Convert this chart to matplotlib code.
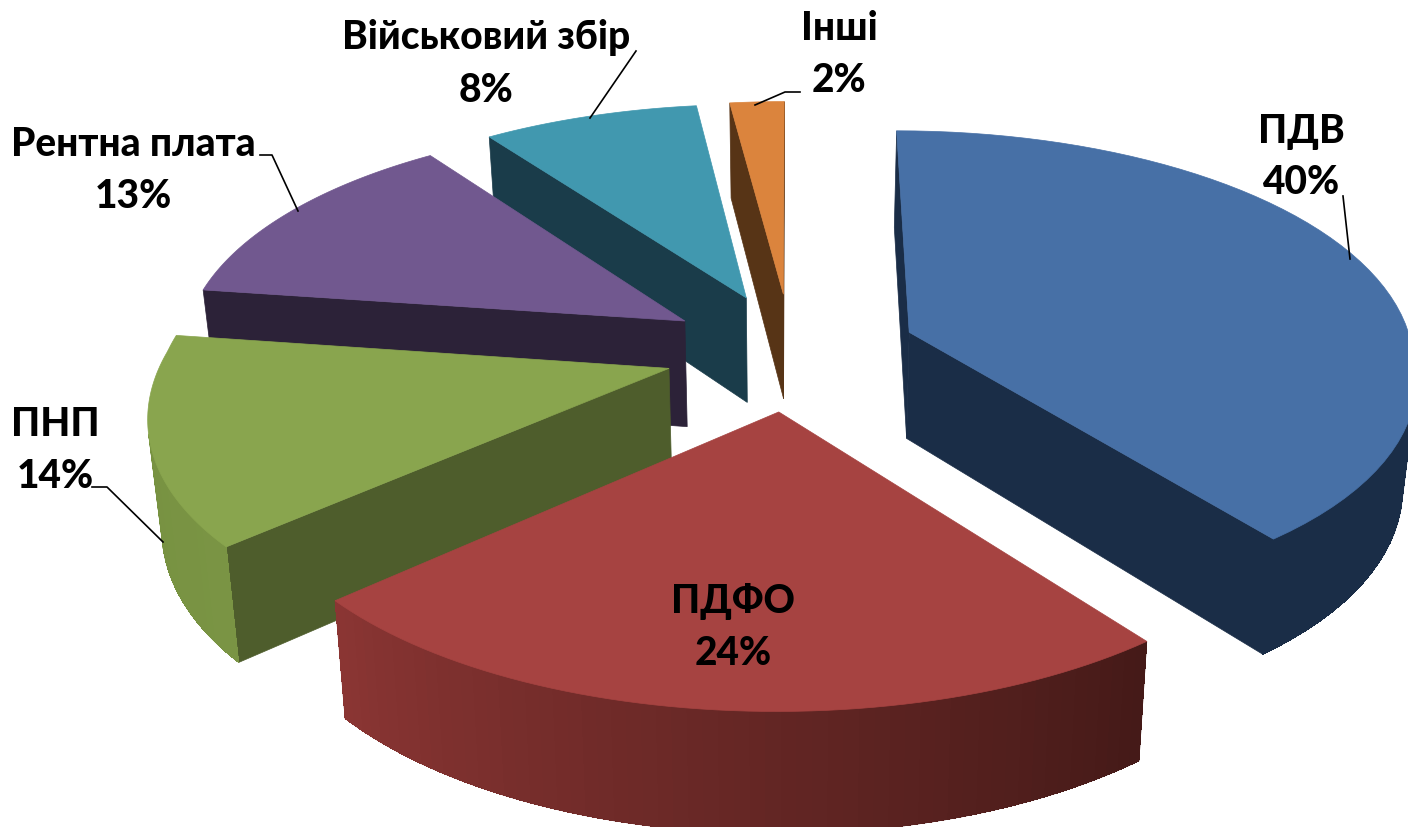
import numpy as np
import matplotlib
matplotlib.use("Agg")
import matplotlib.pyplot as plt
from matplotlib.patches import Polygon

names = ["ПДВ", "ПДФО", "ПНП", "Рентна плата", "Військовий збір", "Інші"]
values = [40, 24, 14, 13, 8, 2]

top_col = ["#4770a6", "#a64341", "#89a54e", "#71588f", "#4198af", "#db843d"]
wall_col = ["#1a2d47", "#451a18", "#4e5d2c", "#2c2238", "#1a3c4a", "#573416"]
rim_left = ["#1a2d47", "#8a3533", "#75903f", "#2c2238", "#1a3c4a", "#573416"]
rim_right = ["#1a2d47", "#451a18", "#7a9444", "#2c2238", "#1a3c4a", "#573416"]

label_x = [1301, 733, 55, 133, 486, 839]
label_y = [131, 602, 425, 145, 38, 28]
leaders = [[(1343, 197), (1350, 260)],
           [],
           [(92, 488), (107, 488), (163, 543)],
           [(260, 156), (272, 156), (298, 212)],
           [(636, 52), (590, 119)],
           [(800, 93), (785, 93), (755, 106)]]

# perspective of the pie plane, pixels
cx, y0 = 791, 352
S, H, k = 504, 236, 0.146
kx_front, kx_back = 0.165, 0.12
depth = 107
expl = 0.25
plt.rcParams['font.family'] = ['Lato', 'Open Sans', 'DejaVu Sans']


def top(X, Y):
    kx = kx_front if Y < 0 else kx_back
    return cx + S * X / (1 + kx * Y), y0 - H * Y / (1 + k * Y)


def bottom(X, Y):
    x, y = top(X, Y)
    return cx + (x - cx) * 0.978, y + depth / (1 + 0.1 * Y)


def area(p):
    p = np.array(p)
    return np.sum(p[:, 0] * np.roll(p[:, 1], -1) - np.roll(p[:, 0], -1) * p[:, 1])


def mix(c1, c2, f):
    a = np.array(matplotlib.colors.to_rgb(c1))
    b = np.array(matplotlib.colors.to_rgb(c2))
    return a + (b - a) * f


fig = plt.figure(figsize=(14.08, 8.28), dpi=100)
ax = fig.add_axes([0, 0, 1, 1])
ax.set_xlim(0, 1408)
ax.set_ylim(828, 0)
ax.axis("off")

shares = np.array(values) / sum(values) * 2 * np.pi
ends = np.cumsum(shares)
starts = ends - shares
mids = (starts + ends) / 2

# back slices first
for i in np.argsort(-np.cos(mids)):
    ax0 = expl * np.sin(mids[i])
    ay0 = expl * np.cos(mids[i])
    t = np.linspace(starts[i], ends[i], 61)
    rx = ax0 + np.sin(t)
    ry = ay0 + np.cos(t)

    for a, b in [((ax0, ay0), (rx[0], ry[0])), ((rx[-1], ry[-1]), (ax0, ay0))]:
        q = [top(*a), top(*b), bottom(*b), bottom(*a)]
        if area(q) < 0:
            ax.add_patch(Polygon(q, fc=wall_col[i], ec=wall_col[i], lw=0.5))

    # soft edge first, then the same strips without antialias so no seams show
    for aa in [True, False]:
        for j in range(len(t) - 1):
            q = [top(rx[j], ry[j]), top(rx[j + 1], ry[j + 1]),
                 bottom(rx[j + 1], ry[j + 1]), bottom(rx[j], ry[j])]
            if area(q) < 0:
                c = mix(rim_right[i], rim_left[i], j / (len(t) - 2))
                ax.add_patch(Polygon(q, fc=c, ec=c, lw=0.5 if aa else 0, antialiased=aa))

    pts = [top(ax0, ay0)] + [top(x, y) for x, y in zip(rx, ry)]
    ax.add_patch(Polygon(pts, fc=top_col[i], ec=top_col[i], lw=0.5))

for pts in leaders:
    if pts:
        ax.plot([p[0] for p in pts], [p[1] for p in pts], color="black", lw=1.2)

for i in range(len(names)):
    ax.text(label_x[i], label_y[i], names[i], ha="center", va="center",
            fontsize=28, fontweight="black", color="black")
    ax.text(label_x[i], label_y[i] + 52, f"{values[i]}%", ha="center", va="center",
            fontsize=28, fontweight="black", color="black")

fig.savefig("out.png", dpi=100)
